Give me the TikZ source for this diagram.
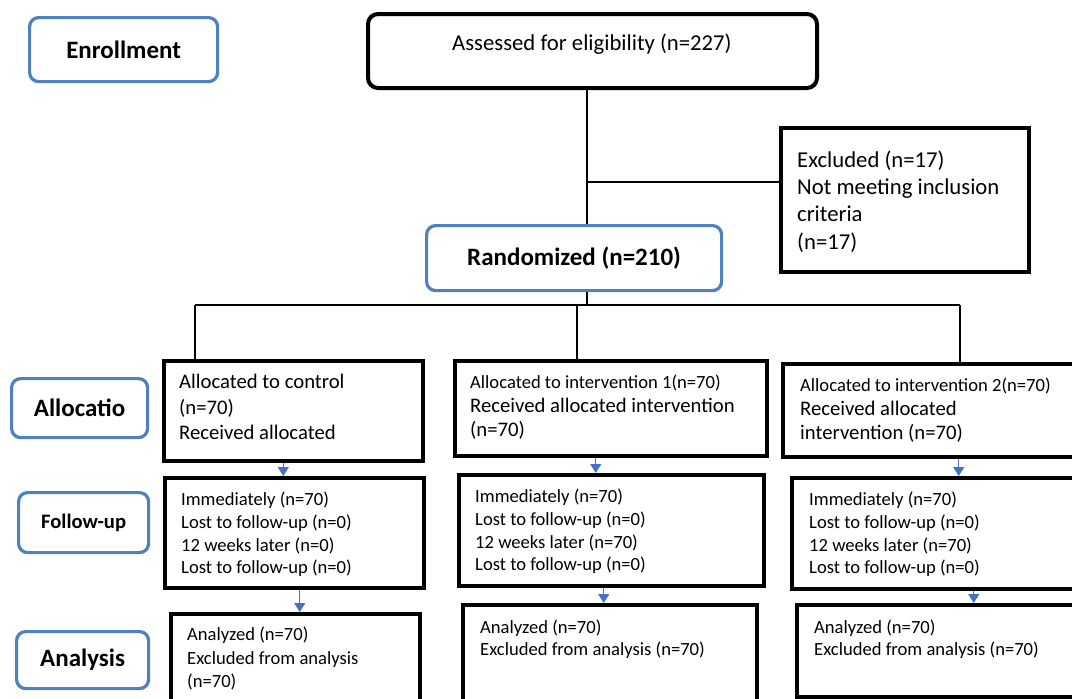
\documentclass[tikz,border=0pt]{standalone}
\usepackage{fontspec}
\setmainfont{Carlito}
\usetikzlibrary{arrows.meta}
\definecolor{boxblue}{RGB}{79,129,189}
\definecolor{arrblue}{RGB}{68,114,196}

\begin{document}
\begin{tikzpicture}[x=1pt, y=-1pt,
    stage/.style={draw=boxblue, line width=3.2pt, rounded corners=9pt, anchor=north west, font=\bfseries\fontsize{25}{30}\selectfont},
    frame/.style={draw, line width=3.5pt, anchor=north west, inner sep=0pt},
    big/.style={font=\fontsize{20.7}{25.5}\selectfont, align=left, anchor=north west, inner sep=0pt},
    small/.style={font=\fontsize{18.6}{22.7}\selectfont, align=left, anchor=north west, inner sep=0pt},
    arr/.style={arrblue, line width=1pt, -{Triangle[length=9pt, width=11pt]}}]
    \useasboundingbox (0,0) rectangle (1072,699);

    % stage labels on the left
    \node[stage, minimum width=188, minimum height=64] (enrol) at (28,16) {Enrollment};
    \node[stage, minimum width=136, minimum height=59] (alloc) at (10,377) {Allocatio};
    \node[stage, minimum width=130, minimum height=60, font=\bfseries\fontsize{20.6}{24}\selectfont] (follow) at (17,491) {Follow-up};
    \node[stage, minimum width=132, minimum height=57] (analys) at (15,630) {Analysis};

    % enrollment
    \node[frame, rounded corners=10pt, line width=4pt, minimum width=449, minimum height=74] (assess) at (366,12) {};
    \node[big, anchor=west, font=\fontsize{22.7}{27}\selectfont] (assess-t) at (452,44) {Assessed for eligibility (n=227)};
    \node[frame, minimum width=248, minimum height=144] (excl) at (779,126) {};
    \node[big, font=\fontsize{22.7}{27.3}\selectfont] (excl-t) at (797,150.5) {Excluded (n=17)\\Not meeting inclusion\\criteria\\(n=17)};
    \node[stage, minimum width=295, minimum height=65] (rand) at (425,224) {Randomized (n=210)};

    \coordinate (split) at (587,182);
    \draw[line width=1.1pt] (assess.south -| split) -- (split |- rand.north);
    \draw[line width=1.1pt] (split) -- (split -| excl.west);

    % allocation
    \node[frame, minimum width=259, minimum height=100] (ctlA) at (162,359) {};
    \node[big] (ctlA-t) at (179,374) {Allocated to control\\(n=70)\\Received allocated};
    \node[frame, minimum width=312, minimum height=95] (int1A) at (453,359) {};
    \node[big, font=\fontsize{20.7}{24}\selectfont] (int1A-t) at (470,375) {{\fontsize{18.6}{22}\selectfont Allocated to intervention 1(n=70)}\\Received allocated intervention\\(n=70)};
    \node[frame, minimum width=300, minimum height=93] (int2A) at (781,362) {};
    \node[big, font=\fontsize{20.7}{24}\selectfont] (int2A-t) at (800,378) {{\fontsize{18.6}{22}\selectfont Allocated to intervention 2(n=70)}\\Received allocated\\intervention (n=70)};

    \coordinate (bl) at (195,305);
    \coordinate (bm) at (577,305);
    \coordinate (br) at (960,305);
    \draw[line width=1.1pt] (rand.south -| split) -- (split |- bl);
    \draw[line width=1.1pt] (bl) -- (br);
    \draw[line width=1.1pt] (bl) -- (bl |- ctlA.north);
    \draw[line width=1.1pt] (bm) -- (bm |- int1A.north);
    \draw[line width=1.1pt] (br) -- (br |- int2A.north);

    % follow-up
    \node[frame, minimum width=259, minimum height=110] (ctlF) at (163,476) {};
    \node[small] (ctlF-t) at (181,492) {Immediately (n=70)\\Lost to follow-up (n=0)\\12 weeks later (n=0)\\Lost to follow-up (n=0)};
    \node[frame, minimum width=305, minimum height=111] (int1F) at (457,473) {};
    \node[small] (int1F-t) at (475,489) {Immediately (n=70)\\Lost to follow-up (n=0)\\12 weeks later (n=70)\\Lost to follow-up (n=0)};
    \node[frame, minimum width=300, minimum height=111] (int2F) at (790,476) {};
    \node[small] (int2F-t) at (809,492) {Immediately (n=70)\\Lost to follow-up (n=0)\\12 weeks later (n=70)\\Lost to follow-up (n=0)};

    \draw[arr] ([xshift=-10]ctlA.south) -- ([xshift=-10]ctlA.south |- ctlF.north);
    \draw[arr] ([xshift=-15]int1A.south) -- ([xshift=-15]int1A.south |- int1F.north);
    \draw[arr] ([xshift=26]int2A.south) -- ([xshift=26]int2A.south |- int2F.north);

    % analysis
    \node[frame, minimum width=249, minimum height=100] (ctlN) at (169,612) {};
    \node[small, font=\fontsize{18.6}{23.5}\selectfont] (ctlN-t) at (187,627) {Analyzed (n=70)\\Excluded from analysis\\(n=70)};
    \node[frame, minimum width=294, minimum height=110] (int1N) at (461,603) {};
    \node[small, font=\fontsize{18.6}{22}\selectfont] (int1N-t) at (480,620) {Analyzed (n=70)\\Excluded from analysis (n=70)};
    \node[frame, minimum width=290, minimum height=92] (int2N) at (795,603) {};
    \node[small, font=\fontsize{18.6}{22}\selectfont] (int2N-t) at (814,620) {Analyzed (n=70)\\Excluded from analysis (n=70)};

    \draw[arr] ([xshift=5.5]ctlF.south) -- ([xshift=5.5]ctlF.south |- ctlN.north);
    \draw[arr] ([xshift=-7.5]int1F.south) -- ([xshift=-7.5]int1F.south |- int1N.north);
    \draw[arr] ([xshift=32]int2F.south) -- ([xshift=32]int2F.south |- int2N.north);
\end{tikzpicture}
\end{document}
